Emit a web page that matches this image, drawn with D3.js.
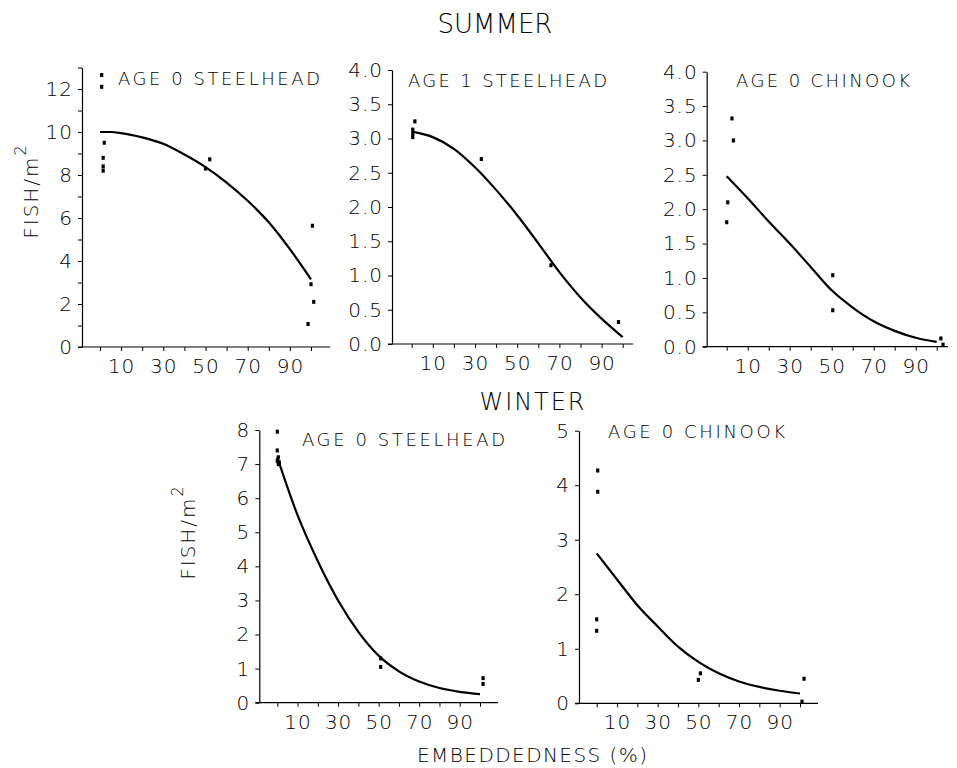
<!DOCTYPE html>
<html><head><meta charset="utf-8">
<script src="https://cdn.jsdelivr.net/npm/d3@7"></script>
<style>
body{margin:0;background:#fff}
svg text{font-family:"DejaVu Sans","Liberation Sans",sans-serif;font-weight:200;fill:#000}
</style>
</head><body>
<svg id="chart" width="957" height="768"></svg>
<script>
// ---------- data ----------
const xTickValues = [0,10,20,30,40,50,60,70,80,90,100];
const xTickLabels = [10,30,50,70,90];

const seasonTitles = ["SUMMER","WINTER"];
const panelTitles = ["AGE 0 STEELHEAD","AGE 1 STEELHEAD","AGE 0 CHINOOK","AGE 0 STEELHEAD","AGE 0 CHINOOK"];
const yAxisTitle = "FISH/m";
const xAxisTitle = "EMBEDDEDNESS (%)";

// Summer, age 0 steelhead
const s0sObsX = [0.8,0.8,2,1.5,1.5,1.5,50,52,100.7,100,101.3,98.6];
const s0sObsY = [12.65,12.1,9.5,8.8,8.4,8.2,8.3,8.73,5.64,2.92,2.1,1.07];
const s0sFitX = [0,5,10,20,30,40,50,60,70,80,90,100];
const s0sFitY = [10.0,10.0,9.95,9.75,9.45,8.95,8.37,7.65,6.8,5.8,4.55,3.15];
const s0sYTicks = [0,1,2,3,4,5,6,7,8,9,10,11,12,13];
const s0sYLabels = [0,2,4,6,8,10,12];

// Summer, age 1 steelhead
const s1sObsX = [1.5,0.5,0.5,0.5,33,66,98];
const s1sObsY = [3.25,3.13,3.07,3.02,2.7,1.15,0.32];
const s1sFitX = [0,10,20,30,40,50,60,70,80,90,100];
const s1sFitY = [3.1,3.02,2.85,2.58,2.25,1.88,1.47,1.05,0.68,0.37,0.1];
const s1sYTicks = [0,0.5,1,1.5,2,2.5,3,3.5,4];
const s1sYLabels = [0,0.5,1,1.5,2,2.5,3,3.5,4];

// Summer, age 0 chinook
const s0cObsX = [0.5,0,2.5,3.2,50.5,50.5,102,103];
const s0cObsY = [2.1,1.81,3.32,3.0,1.04,0.53,0.12,0.03];
const s0cFitX = [0,10,20,30,40,50,60,70,80,90,100];
const s0cFitY = [2.48,2.16,1.82,1.5,1.16,0.82,0.57,0.37,0.23,0.13,0.07];
const s0cYTicks = [0,0.5,1,1.5,2,2.5,3,3.5,4];
const s0cYLabels = [0,0.5,1,1.5,2,2.5,3,3.5,4];

// Winter, age 0 steelhead
const w0sObsX = [0,0,0.5,0,1,0.5,51,51,101.5,101.5];
const w0sObsY = [7.95,7.4,7.2,7.1,7.05,7.0,1.3,1.05,0.72,0.55];
const w0sFitX = [0,10,20,30,40,50,60,70,80,90,100];
const w0sFitY = [7.2,5.5,4.15,3.0,2.08,1.38,0.92,0.62,0.43,0.32,0.25];
const w0sYTicks = [0,1,2,3,4,5,6,7,8];
const w0sYLabels = [0,1,2,3,4,5,6,7,8];

// Winter, age 0 chinook
const w0cObsX = [0.5,0.5,0,0,51,50,102,101];
const w0cObsY = [4.27,3.88,1.54,1.33,0.55,0.43,0.45,0.03];
const w0cFitX = [0,10,20,30,40,50,60,70,80,90,100];
const w0cFitY = [2.75,2.27,1.8,1.41,1.04,0.76,0.55,0.4,0.3,0.23,0.18];
const w0cYTicks = [0,1,2,3,4,5];
const w0cYLabels = [0,1,2,3,4,5];

// ---------- layout ----------
const panels = [
  {title:panelTitles[0], obsX:s0sObsX, obsY:s0sObsY, fitX:s0sFitX, fitY:s0sFitY, yTicks:s0sYTicks, yLabels:s0sYLabels, yMax:13, fmt:d3.format("d"),
   axisX:82, x0:100, x100:311, xEnd:330, baseY:347, topY:67.5, tX:118, tY:85, tLen:202, yTitle:{x:38,y:191}},
  {title:panelTitles[1], obsX:s1sObsX, obsY:s1sObsY, fitX:s1sFitX, fitY:s1sFitY, yTicks:s1sYTicks, yLabels:s1sYLabels, yMax:4, fmt:d3.format(".1f"),
   axisX:392, x0:411.7, x100:622.7, xEnd:633, baseY:344, topY:70, tX:408, tY:87, tLen:199},
  {title:panelTitles[2], obsX:s0cObsX, obsY:s0cObsY, fitX:s0cFitX, fitY:s0cFitY, yTicks:s0cYTicks, yLabels:s0cYLabels, yMax:4, fmt:d3.format(".1f"),
   axisX:706.7, x0:726.7, x100:936.7, xEnd:948, baseY:346.7, topY:71.7, tX:736, tY:87, tLen:174},
  {title:panelTitles[3], obsX:w0sObsX, obsY:w0sObsY, fitX:w0sFitX, fitY:w0sFitY, yTicks:w0sYTicks, yLabels:w0sYLabels, yMax:8, fmt:d3.format("d"),
   axisX:259.3, x0:277.3, x100:480, xEnd:498, baseY:702.7, topY:430, tX:302, tY:446, tLen:203, yTitle:{x:195,y:532}},
  {title:panelTitles[4], obsX:w0cObsX, obsY:w0cObsY, fitX:w0cFitX, fitY:w0cFitY, yTicks:w0cYTicks, yLabels:w0cYLabels, yMax:5, fmt:d3.format("d"),
   axisX:579, x0:596.7, x100:800, xEnd:818, baseY:703.3, topY:430.7, tX:608, tY:438, tLen:177}
];

const svg = d3.select("#chart");
const ink = "#000";

panels.forEach(p => {
  const x = d3.scaleLinear().domain([0,100]).range([p.x0, p.x100]);
  const y = d3.scaleLinear().domain([0,p.yMax]).range([p.baseY, p.topY]);
  const g = svg.append("g");

  // x axis
  const xa = d3.axisBottom(x).tickValues(xTickValues).tickSize(4).tickSizeOuter(0).tickPadding(8)
    .tickFormat(d => xTickLabels.includes(d) ? d : "");
  const gx = g.append("g").attr("transform", `translate(0,${p.baseY})`).call(xa);
  gx.select(".domain").remove();
  gx.append("line").attr("x1", p.axisX-4).attr("x2", p.xEnd).attr("y1",0).attr("y2",0)
    .attr("stroke", ink).attr("stroke-width",1.2);
  gx.selectAll(".tick line").attr("stroke", ink).attr("stroke-width",1);
  gx.selectAll(".tick text").attr("font-size",20).attr("fill",ink).attr("letter-spacing",1)
    .style("font-family","'DejaVu Sans',sans-serif").style("font-weight",200);

  // y axis
  const ya = d3.axisLeft(y).tickValues(p.yTicks).tickSize(4).tickSizeOuter(0).tickPadding(5)
    .tickFormat(d => p.yLabels.includes(d) ? p.fmt(d) : "");
  const gy = g.append("g").attr("transform", `translate(${p.axisX},0)`).call(ya);
  gy.select(".domain").attr("stroke", ink).attr("stroke-width",1.2);
  gy.selectAll(".tick line").attr("stroke", ink).attr("stroke-width",1);
  gy.selectAll(".tick text").attr("font-size",20).attr("fill",ink).attr("letter-spacing",1)
    .style("font-family","'DejaVu Sans',sans-serif").style("font-weight",200);

  // fitted curve
  const pts = p.fitX.map((v,i) => [v, p.fitY[i]]);
  g.append("path").datum(pts)
    .attr("d", d3.line().x(d => x(d[0])).y(d => y(d[1])).curve(d3.curveMonotoneX))
    .attr("fill","none").attr("stroke", ink).attr("stroke-width",2.2);

  // observations
  const obs = p.obsX.map((v,i) => [v, p.obsY[i]]);
  g.selectAll("rect.obs").data(obs).enter().append("rect").attr("class","obs")
    .attr("x", d => x(d[0]) - 1.6).attr("y", d => y(d[1]) - 2)
    .attr("width", 3.2).attr("height", 4).attr("fill", ink);

  // panel title
  g.append("text").attr("x", p.tX).attr("y", p.tY).attr("font-size", 18)
    .attr("textLength", p.tLen).attr("lengthAdjust","spacing").text(p.title);

  // y axis title
  if (p.yTitle) {
    const t = g.append("text").attr("transform", `translate(${p.yTitle.x},${p.yTitle.y}) rotate(-90)`)
      .attr("text-anchor","middle").attr("font-size",20).attr("letter-spacing",2);
    t.append("tspan").text(yAxisTitle);
    t.append("tspan").attr("font-size",16).attr("dy",-12).text("2");
  }
});

// season titles
svg.append("text").attr("x",495).attr("y",33).attr("text-anchor","middle").attr("font-size",26).text(seasonTitles[0]);
svg.append("text").attr("x",532).attr("y",410).attr("text-anchor","middle").attr("font-size",24)
  .attr("textLength",105).attr("lengthAdjust","spacing").text(seasonTitles[1]);

// x axis title
svg.append("text").attr("x",532).attr("y",762).attr("text-anchor","middle").attr("font-size",20)
  .attr("textLength",230).attr("lengthAdjust","spacing").text(xAxisTitle);
</script>
</body></html>
